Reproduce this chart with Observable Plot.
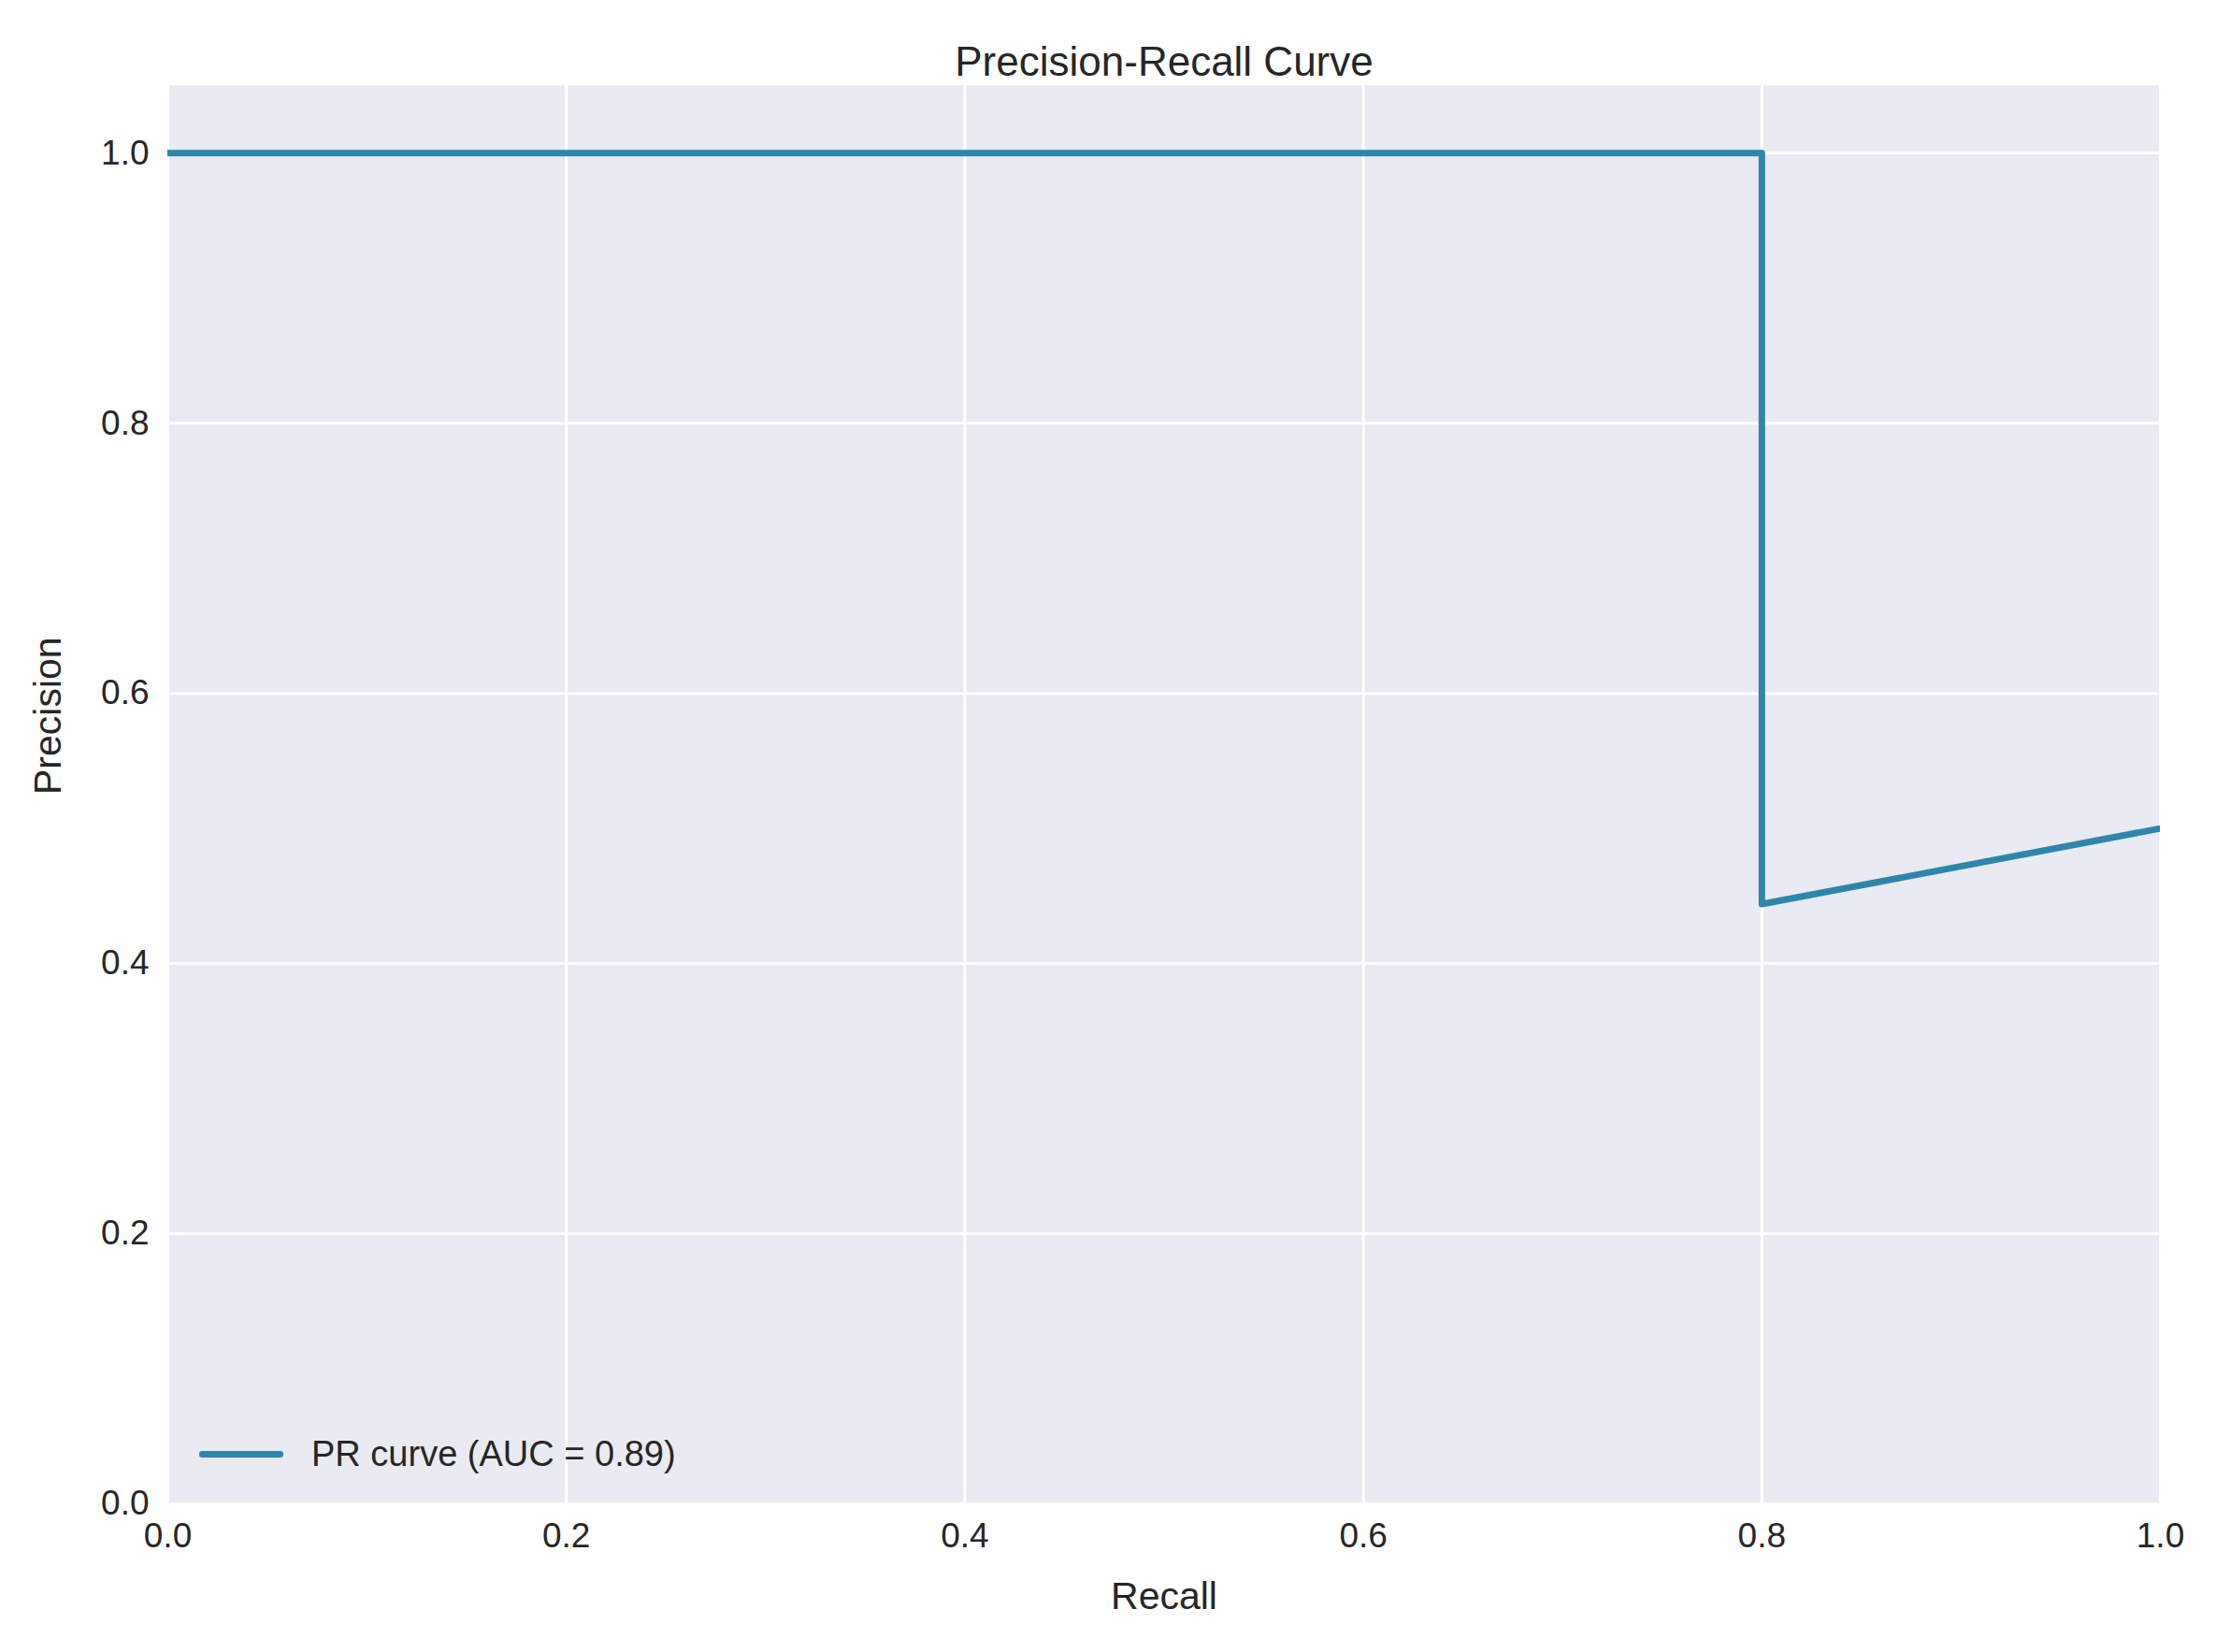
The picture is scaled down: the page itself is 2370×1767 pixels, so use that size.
<!DOCTYPE html>
<html>
<head>
<meta charset="utf-8">
<script src="https://cdn.jsdelivr.net/npm/d3@7"></script>
<script src="https://cdn.jsdelivr.net/npm/@observablehq/plot@0.6"></script>
<style>
  body { margin: 0; background: #fff; font-family: "Liberation Sans", Arial, sans-serif; }
  #wrap { position: relative; width: 2370px; height: 1767px; }
  #legend { position: absolute; left: 213px; top: 1534px; font-size: 38px; color: #262626; display: flex; align-items: center; }
  #legend span.swatch { display: inline-block; width: 90px; height: 7px; background: #2E86AB; border-radius: 3px; margin-right: 30px; }
</style>
</head>
<body>
<div id="wrap"><div id="chart"></div><div id="legend"><span class="swatch"></span>PR curve (AUC = 0.89)</div></div>
<script>
// precision-recall points
const recall = [0, 0.8, 0.8, 1.0];
const precision = [1.0, 1.0, 0.444, 0.5];
const ticks = [0, 0.2, 0.4, 0.6, 0.8, 1.0];

const pts = recall.map((r, i) => ({recall: r, precision: precision[i]}));

const plot = Plot.plot({
  width: 2370,
  height: 1767,
  marginLeft: 179,
  marginRight: 60,
  marginTop: 91,
  marginBottom: 159,
  style: {fontFamily: "Liberation Sans, Arial, sans-serif", fontSize: "37px", color: "#262626", background: "#fff"},
  x: {domain: [0, 1], label: null},
  y: {domain: [0, 1.05], label: null},
  marks: [
    Plot.frame({fill: "#EAEAF2", stroke: null}),
    Plot.gridX(ticks, {stroke: "#fff", strokeOpacity: 1, strokeWidth: 3}),
    Plot.gridY(ticks, {stroke: "#fff", strokeOpacity: 1, strokeWidth: 3}),
    Plot.axisX(ticks, {tickFormat: d3.format(".1f"), tickSize: 0, tickPadding: 20, fontSize: 37, label: null}),
    Plot.axisY(ticks, {tickFormat: d3.format(".1f"), tickSize: 0, tickPadding: 20, fontSize: 37, label: null}),
    Plot.line(pts, {x: "recall", y: "precision", stroke: "#2E86AB", strokeWidth: 7, clip: true}),
    Plot.text(["Precision-Recall Curve"], {frameAnchor: "top", dy: -42, fontSize: 44, fill: "#262626"}),
    Plot.text(["Recall"], {frameAnchor: "bottom", dy: 112, fontSize: 41, fill: "#262626"}),
    Plot.text(["Precision"], {frameAnchor: "left", dx: -128, rotate: -90, fontSize: 41, fill: "#262626"})
  ]
});
document.getElementById("chart").appendChild(plot);
</script>
</body>
</html>
